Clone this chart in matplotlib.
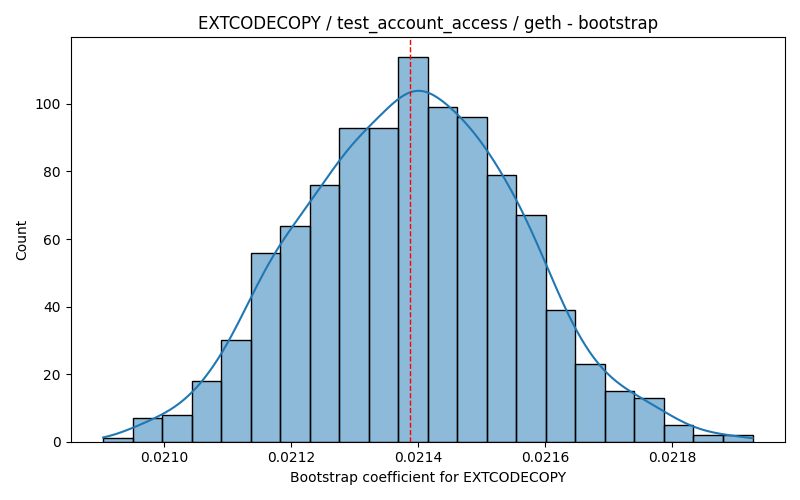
import numpy as np
import matplotlib
matplotlib.use("Agg")
import matplotlib.pyplot as plt
import seaborn as sns

opcode = "EXTCODECOPY"
test_name = "test_account_access"
client = "geth"

# histogram: 22 bins, 1000 bootstrap samples
bin_lo = 0.0209041
bin_hi = 0.0219267
counts = [1, 7, 8, 18, 30, 56, 64, 76, 93, 93, 114,
          99, 96, 79, 67, 39, 23, 15, 13, 5, 2, 2]
point_estimate = 0.021387

edges = np.linspace(bin_lo, bin_hi, len(counts) + 1)
centers = (edges[:-1] + edges[1:]) / 2
bin_w = edges[1] - edges[0]
samples = np.repeat(centers, counts)

fig, ax = plt.subplots(figsize=(8, 5), dpi=100)
sns.histplot(x=samples, bins=list(edges), ax=ax,
             color="C0", alpha=0.5, edgecolor="black", linewidth=1)

# gaussian kde (scott bandwidth) over the binned samples, scaled to counts
n = len(samples)
bw = samples.std(ddof=1) * n ** (-1 / 5)
grid = np.linspace(bin_lo, bin_hi, 300)
dens = np.exp(-0.5 * ((grid[:, None] - samples[None, :]) / bw) ** 2).sum(axis=1)
dens = dens / (n * bw * np.sqrt(2 * np.pi))
ax.plot(grid, dens * n * bin_w, color="C0", linewidth=1.5)

ax.axvline(point_estimate, color="red", linestyle="--", linewidth=1)

ax.set_title(f"{opcode} / {test_name} / {client} - bootstrap")
ax.set_xlabel(f"Bootstrap coefficient for {opcode}")
ax.set_ylabel("Count")
fig.tight_layout()
fig.savefig("out.png")
